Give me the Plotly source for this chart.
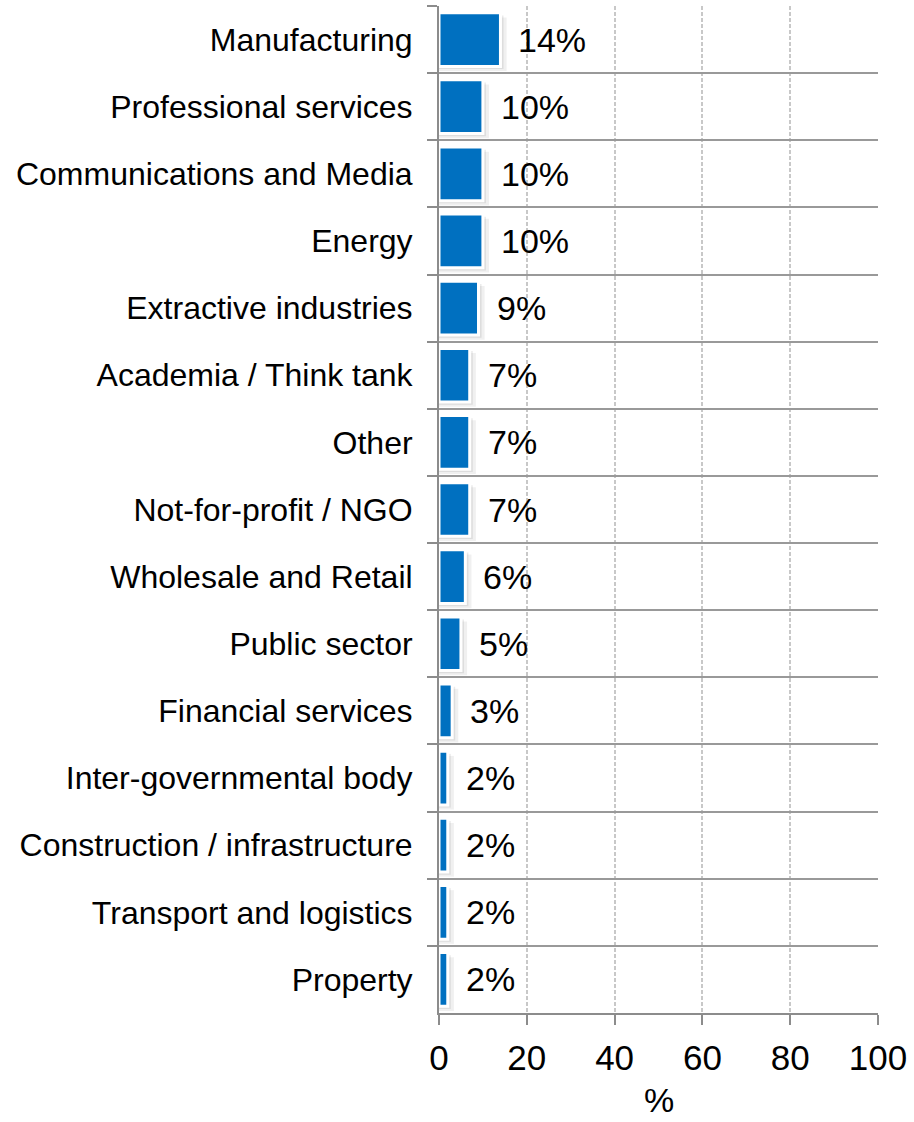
import plotly.graph_objects as go

# Share of respondents by sector (%)
sectors = [
    "Manufacturing",
    "Professional services",
    "Communications and Media",
    "Energy",
    "Extractive industries",
    "Academia / Think tank",
    "Other",
    "Not-for-profit / NGO",
    "Wholesale and Retail",
    "Public sector",
    "Financial services",
    "Inter-governmental body",
    "Construction / infrastructure",
    "Transport and logistics",
    "Property",
]
shares = [14, 10, 10, 10, 9, 7, 7, 7, 6, 5, 3, 2, 2, 2, 2]

x_ticks = [0, 20, 40, 60, 80, 100]

FONT = "Arial, Liberation Sans, sans-serif"
BLUE = "#0070C0"
AXIS_GREY = "#8c8c8c"

fig = go.Figure()

# soft drop shadow behind each bar
for extra, shift, alpha in [(1.4, 0.07, 0.06), (0.7, 0.04, 0.08)]:
    fig.add_trace(go.Bar(
        y=sectors,
        x=[v + extra for v in shares],
        orientation="h",
        width=0.8,
        offset=-0.4 + shift,
        marker=dict(color=f"rgba(0,0,0,{alpha})", line=dict(width=0)),
        hoverinfo="skip",
        showlegend=False,
    ))

# main bars with white outline
fig.add_trace(go.Bar(
    y=sectors,
    x=shares,
    orientation="h",
    width=0.8,
    offset=-0.4,
    marker=dict(color=BLUE, line=dict(color="white", width=3)),
    showlegend=False,
    hovertemplate="%{y}: %{x}%<extra></extra>",
))

# value labels to the right of each bar
for s, v in zip(sectors, shares):
    fig.add_annotation(
        x=v, y=s, xref="x", yref="y",
        text=f"{v}%", showarrow=False,
        xanchor="left", yanchor="middle", xshift=16,
        font=dict(family=FONT, size=34, color="black"),
    )

# axis title
fig.add_annotation(
    x=0.5, y=0, xref="paper", yref="paper",
    text="%", showarrow=False,
    xanchor="center", yanchor="bottom", yshift=-107,
    borderpad=0,
    font=dict(family=FONT, size=34, color="black"),
)

fig.update_layout(
    width=914, height=1122,
    margin=dict(l=439, r=36, t=6, b=109),
    paper_bgcolor="white", plot_bgcolor="white",
    barmode="overlay",
    bargap=0.2,
    xaxis=dict(
        range=[0, 100],
        tickvals=x_ticks,
        ticktext=[str(t) for t in x_ticks],
        tickfont=dict(family=FONT, size=35, color="black"),
        ticks="outside", ticklen=10, tickwidth=2, tickcolor=AXIS_GREY,
        ticklabelstandoff=3,
        showline=True, linecolor=AXIS_GREY, linewidth=2,
        showgrid=True, gridcolor="#c8c8c8", gridwidth=1.5, griddash="4px,2px",
        zeroline=False,
        fixedrange=True,
    ),
    yaxis=dict(
        categoryorder="array", categoryarray=sectors,
        autorange="reversed",
        tickson="boundaries",
        tickfont=dict(family=FONT, size=32, color="black"),
        ticks="outside", ticklen=10, tickwidth=2, tickcolor=AXIS_GREY,
        ticklabelstandoff=18,
        showline=True, linecolor=AXIS_GREY, linewidth=2,
        showgrid=True, gridcolor="#999999", gridwidth=2,
        zeroline=False,
        fixedrange=True,
    ),
)

fig.write_html("out.html")
